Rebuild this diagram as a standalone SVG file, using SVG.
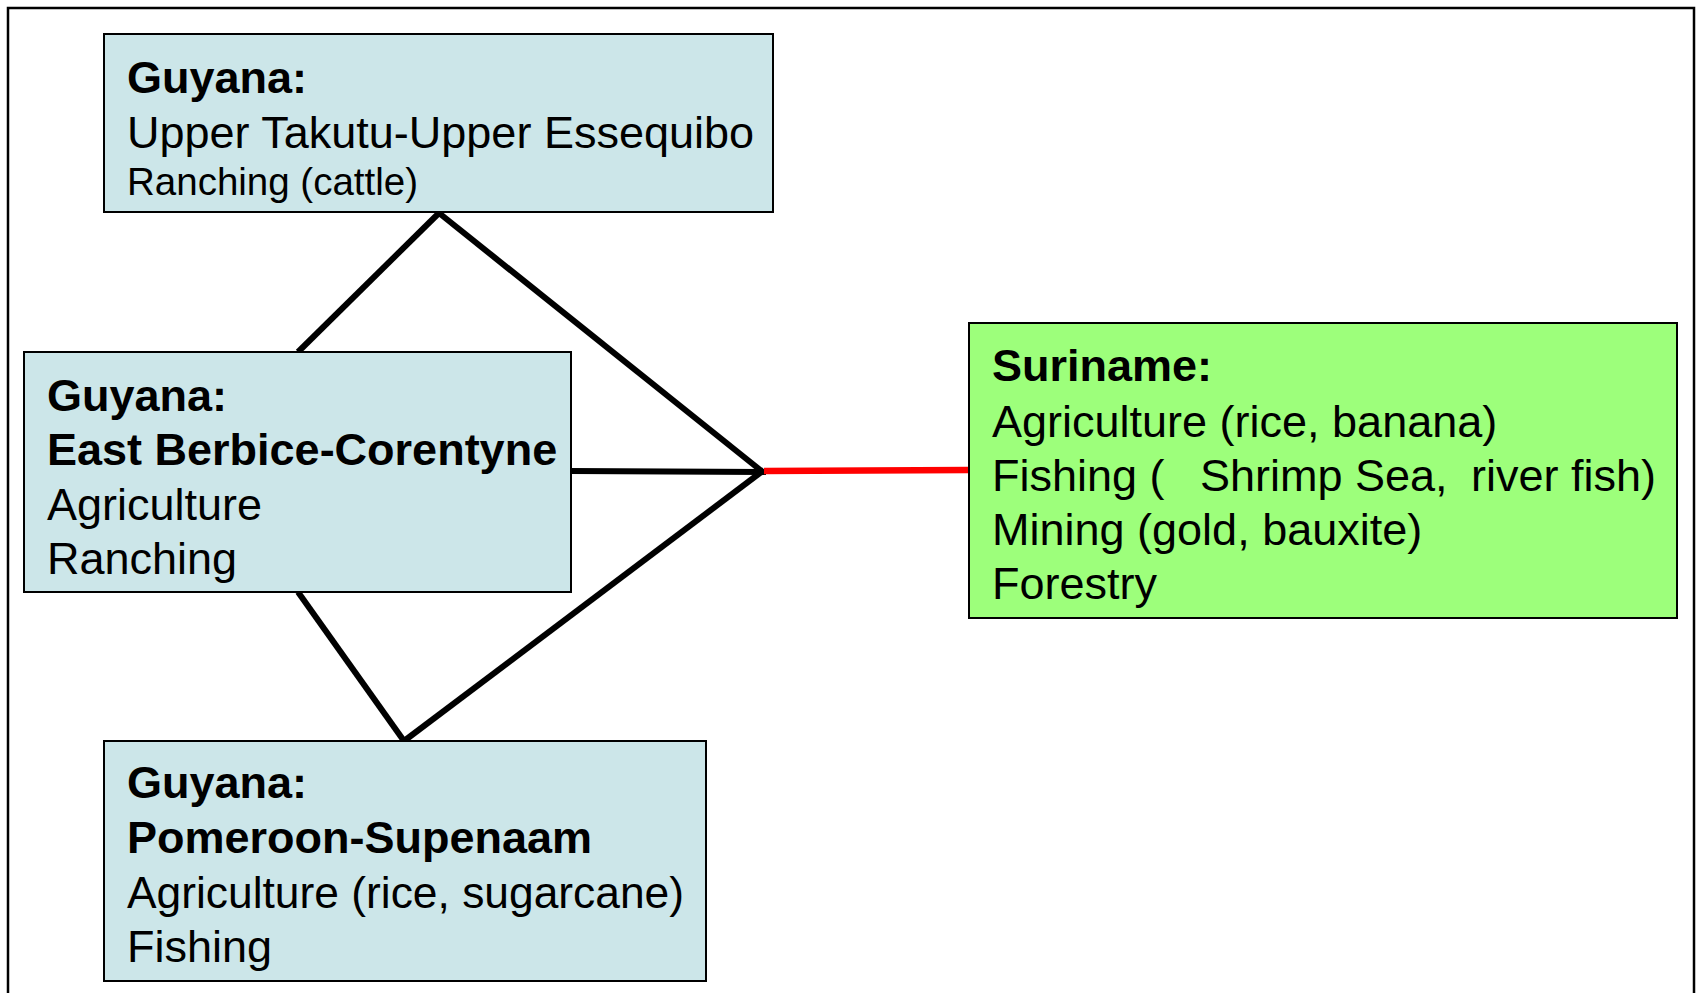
<svg xmlns="http://www.w3.org/2000/svg" width="1699" height="993" viewBox="0 0 1699 993">
<style>
.box{stroke:#000;stroke-width:2}
.blue{fill:#cce6e9}
.green{fill:#9dff7b}
text{font-family:"Liberation Sans",Arial,sans-serif;font-size:45px;fill:#000}
.b{font-weight:bold}
.sm{font-size:38.5px}
.con{stroke:#000;stroke-width:6;fill:none;stroke-linecap:butt}
.red{stroke:#ff0000;stroke-width:6.5;fill:none}
</style>
<rect x="0" y="0" width="1699" height="993" fill="#fff"/>
<rect x="8" y="8" width="1686" height="1000" fill="none" stroke="#000" stroke-width="2.5"/>
<g id="connectors">
<line class="con" x1="439" y1="213" x2="298" y2="352"/>
<line class="con" x1="439" y1="213" x2="764" y2="473"/>
<line class="con" x1="571" y1="471" x2="766" y2="472"/>
<line class="con" x1="298" y1="592" x2="404" y2="741"/>
<line class="con" x1="404" y1="741" x2="764" y2="470"/>
<line class="red" x1="764" y1="471" x2="969" y2="470"/>
</g>
<g id="node-upper-takutu">
<rect class="box blue" x="104" y="34" width="669" height="178"/>
<text class="b" x="127" y="93">Guyana:</text>
<text x="127" y="148">Upper Takutu-Upper Essequibo</text>
<text class="sm" x="127" y="195">Ranching (cattle)</text>
</g>
<g id="node-east-berbice">
<rect class="box blue" x="24" y="352" width="547" height="240"/>
<text class="b" x="47" y="411">Guyana:</text>
<text class="b" x="47" y="465">East Berbice-Corentyne</text>
<text x="47" y="520">Agriculture</text>
<text x="47" y="574">Ranching</text>
</g>
<g id="node-pomeroon">
<rect class="box blue" x="104" y="741" width="602" height="240"/>
<text class="b" x="127" y="798">Guyana:</text>
<text class="b" x="127" y="853">Pomeroon-Supenaam</text>
<text x="127" y="908" textLength="557" lengthAdjust="spacingAndGlyphs">Agriculture (rice, sugarcane)</text>
<text x="127" y="962">Fishing</text>
</g>
<g id="node-suriname">
<rect class="box green" x="969" y="323" width="708" height="295"/>
<text class="b" x="992" y="381">Suriname:</text>
<text x="992" y="437">Agriculture (rice, banana)</text>
<text x="992" y="491">Fishing (<tspan x="1200">Shrimp Sea,</tspan><tspan x="1471">river fish)</tspan></text>
<text x="992" y="545">Mining (gold, bauxite)</text>
<text x="992" y="599">Forestry</text>
</g>
</svg>
